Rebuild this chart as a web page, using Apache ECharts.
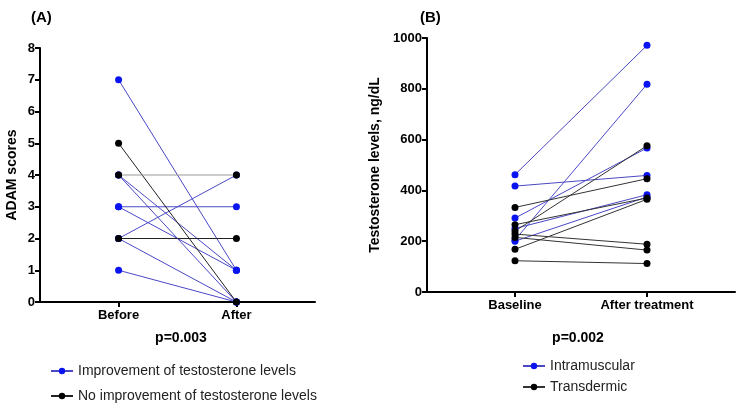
<!DOCTYPE html>
<html lang="en">

<head>
    <meta charset="UTF-8">
    <title>ADAM scores and testosterone levels</title>
    <script src="https://cdn.jsdelivr.net/npm/echarts@6/dist/echarts.min.js"></script>
</head>

<body style="margin:0;">
    <div id="main" style="width: 738px; height: 405px; background-color: #fff;"></div>
    <script>
        // x slots: 8 positions on each category axis, the two time points sit at slot 2 and 5
        const slotsA = ['', '', 'Before', '', '', 'After', '', ''];
        const slotsB = ['', '', 'Baseline', '', '', 'After treatment', '', ''];
        const FIRST = 2, SECOND = 5;

        // (A) ADAM scores, one pair per patient [before, after]
        const adamImproved = [[7, 1], [4, 1], [4, 0], [3, 3], [3, 1], [2, 4], [2, 0], [1, 0]];
        const adamNotImproved = [[5, 0], [2, 2]];
        const adamFlat = [[4, 4]];   // drawn in light grey in the figure

        // (B) testosterone ng/dL, one pair per patient [baseline, after treatment]
        const intramuscular = [[462, 971], [417, 459], [291, 567], [205, 818], [250, 383], [200, 374]];
        const transdermic = [[333, 446], [240, 576], [265, 370], [168, 365], [228, 188], [215, 165], [123, 112]];

        const adamTicks = [0, 8, 1];
        const testoTicks = [0, 1000, 200];

        const FONT = 'Arial, "Liberation Sans", sans-serif';
        const BLUE_DOT = '#0a14f0';
        const BLUE_LINE = '#4a48c4';

        const myChart = echarts.init(document.getElementById('main'));

        function pairSeries(pairs, name, axisIdx, dotColor, lineColor, z) {
            return pairs.map(p => ({
                type: 'line',
                name: name,
                xAxisIndex: axisIdx,
                yAxisIndex: axisIdx,
                data: [[FIRST, p[0]], [SECOND, p[1]]],
                symbol: 'circle',
                symbolSize: 7,
                z: z,
                itemStyle: { color: dotColor },
                lineStyle: { color: lineColor, width: 1 },
                emphasis: { disabled: true },
                animation: false
            }));
        }

        const axisLineStyle = { show: true, lineStyle: { color: '#000', width: 2 } };
        const tickStyle = { show: true, length: 5, lineStyle: { color: '#000', width: 2 } };
        const labelBold = { color: '#000', fontFamily: FONT, fontWeight: 'bold', fontSize: 13 };

        function xAxis(slots, grid) {
            return {
                type: 'category',
                gridIndex: grid,
                data: slots,
                boundaryGap: false,
                axisLine: axisLineStyle,
                axisTick: { ...tickStyle, interval: (i, v) => v !== '' },
                axisLabel: { ...labelBold, interval: (i, v) => v !== '', margin: 7 },
                splitLine: { show: false }
            };
        }

        function yAxis(ticks, grid, name, gap) {
            return {
                type: 'value',
                gridIndex: grid,
                min: ticks[0],
                max: ticks[1],
                interval: ticks[2],
                name: name,
                nameLocation: 'middle',
                nameGap: gap,
                nameTextStyle: { color: '#000', fontFamily: FONT, fontWeight: 'bold', fontSize: 14 },
                axisLine: axisLineStyle,
                axisTick: tickStyle,
                axisLabel: { ...labelBold, margin: 5, formatter: v => String(v) },
                splitLine: { show: false }
            };
        }

        const legendText = { color: '#222', fontFamily: FONT, fontSize: 14 };

        const option = {
            animation: false,
            title: [
                { text: '(A)', left: 26, top: 5, textStyle: { fontFamily: FONT, fontSize: 15, fontWeight: 'bold', color: '#000' } },
                { text: '(B)', left: 415, top: 5, textStyle: { fontFamily: FONT, fontSize: 15, fontWeight: 'bold', color: '#000' } },
                { text: 'p=0.003', left: 176, top: 326, textAlign: 'center', textStyle: { fontFamily: FONT, fontSize: 14, fontWeight: 'bold', color: '#000' } },
                { text: 'p=0.002', left: 573, top: 326, textAlign: 'center', textStyle: { fontFamily: FONT, fontSize: 14, fontWeight: 'bold', color: '#000' } }
            ],
            legend: [
                {
                    orient: 'vertical', left: 50, top: 364, padding: 0, itemGap: 11, itemWidth: 22, itemHeight: 8,
                    height: 44,
                    data: ['Improvement of testosterone levels', 'No improvement of testosterone levels'],
                    textStyle: legendText
                },
                {
                    orient: 'vertical', left: 522, top: 359, padding: 0, itemGap: 7, itemWidth: 22, itemHeight: 8,
                    height: 44,
                    data: ['Intramuscular', 'Transdermic'],
                    textStyle: legendText
                }
            ],
            grid: [
                { left: 40, right: 423, top: 48, bottom: 103 },
                { left: 427, right: 3, top: 38, bottom: 113 }
            ],
            xAxis: [xAxis(slotsA, 0), xAxis(slotsB, 1)],
            yAxis: [
                yAxis(adamTicks, 0, 'ADAM scores', 21),
                yAxis(testoTicks, 1, 'Testosterone levels, ng/dL', 45)
            ],
            series: []
        };

        option.series.push(...pairSeries(adamImproved, 'Improvement of testosterone levels', 0, BLUE_DOT, BLUE_LINE, 2));
        option.series.push(...pairSeries(adamNotImproved, 'No improvement of testosterone levels', 0, '#000', '#222', 3));
        option.series.push(...pairSeries(adamFlat, 'No improvement of testosterone levels', 0, '#000', '#9a9a9a', 3));
        option.series.push(...pairSeries(intramuscular, 'Intramuscular', 1, BLUE_DOT, BLUE_LINE, 2));
        option.series.push(...pairSeries(transdermic, 'Transdermic', 1, '#000', '#333', 3));

        myChart.setOption(option);
    </script>
</body>

</html>
